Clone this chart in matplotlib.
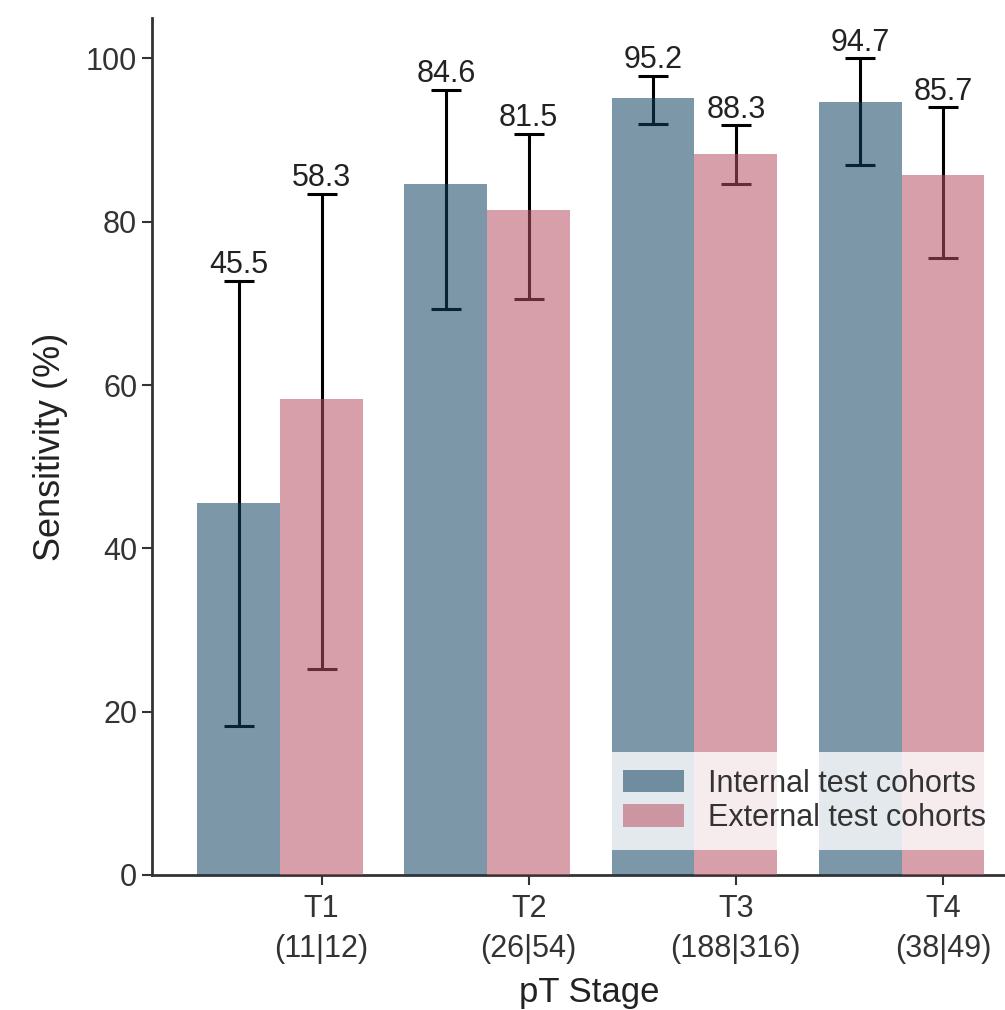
import matplotlib.pyplot as plt
import numpy as np

plt.rcParams['font.family'] = ['Liberation Sans', 'DejaVu Sans']

stages = ["T1\n(11|12)", "T2\n(26|54)", "T3\n(188|316)", "T4\n(38|49)"]
internal = [45.5, 84.6, 95.2, 94.7]
internal_lo = [18.3, 69.3, 92.0, 87.0]
internal_hi = [72.8, 96.2, 97.9, 100.0]
external = [58.3, 81.5, 88.3, 85.7]
external_lo = [25.2, 70.6, 84.6, 75.6]
external_hi = [83.4, 90.8, 91.8, 94.0]

# bars are semi-transparent and sit over the error bars
c_int = "#10425f"
c_ext = "#b75163"
a = 0.55

x = np.arange(len(stages))
w = 0.4

fig = plt.figure(figsize=(10.05, 10.10), dpi=100)
ax = fig.add_axes([0.151, 0.1337, 0.8697, 0.848])

ax.bar(x, internal, w, color=c_int, alpha=a, zorder=3, label="Internal test cohorts")
ax.bar(x + w, external, w, color=c_ext, alpha=a, zorder=3, label="External test cohorts")

err_i = [np.array(internal) - np.array(internal_lo), np.array(internal_hi) - np.array(internal)]
err_e = [np.array(external) - np.array(external_lo), np.array(external_hi) - np.array(external)]
ax.errorbar(x, internal, yerr=err_i, fmt="none", ecolor="black", elinewidth=2.2,
            capsize=11, capthick=2.2, zorder=2)
ax.errorbar(x + w, external, yerr=err_e, fmt="none", ecolor="black", elinewidth=2.2,
            capsize=11, capthick=2.2, zorder=2)

for xi, v, hi in zip(x, internal, internal_hi):
    ax.text(xi, hi + 0.1, f"{v:.1f}", ha="center", va="bottom", fontsize=22, color="#222222")
for xi, v, hi in zip(x + w, external, external_hi):
    ax.text(xi, hi + 0.1, f"{v:.1f}", ha="center", va="bottom", fontsize=22, color="#222222")

ax.set_xlim(-0.42, 3.8)
ax.set_ylim(0, 104.9)
ax.set_xticks(x + w)
ax.set_xticklabels(stages, fontsize=22, color="#333333", linespacing=1.4)
ax.set_yticks([0, 20, 40, 60, 80, 100])
ax.tick_params(axis="y", labelsize=22, length=7, width=1.5, colors="#333333")
ax.tick_params(axis="x", length=7, width=1.5, colors="#333333", pad=7)
ax.spines["top"].set_visible(False)
ax.spines["right"].set_visible(False)
ax.spines["left"].set_linewidth(2)
ax.spines["bottom"].set_linewidth(2)
ax.spines["left"].set_color("#333333")
ax.spines["bottom"].set_color("#333333")

ax.set_xlabel("pT Stage", fontsize=25, color="#222222")
ax.set_ylabel("Sensitivity (%)", fontsize=26, color="#222222")
ax.xaxis.set_label_coords(0.5, -0.118)
ax.yaxis.set_label_coords(-0.096, 0.5)

leg = ax.legend(loc="lower right", bbox_to_anchor=(0.974, 0.029), fontsize=22,
                frameon=True, framealpha=0.8, edgecolor="none", fancybox=False,
                handlelength=2.0, handleheight=0.75, handletextpad=0.8,
                labelspacing=0.15, borderpad=0.55, borderaxespad=0)
for t in leg.get_texts():
    t.set_color("#333333")

plt.savefig("out.png", dpi=100)
